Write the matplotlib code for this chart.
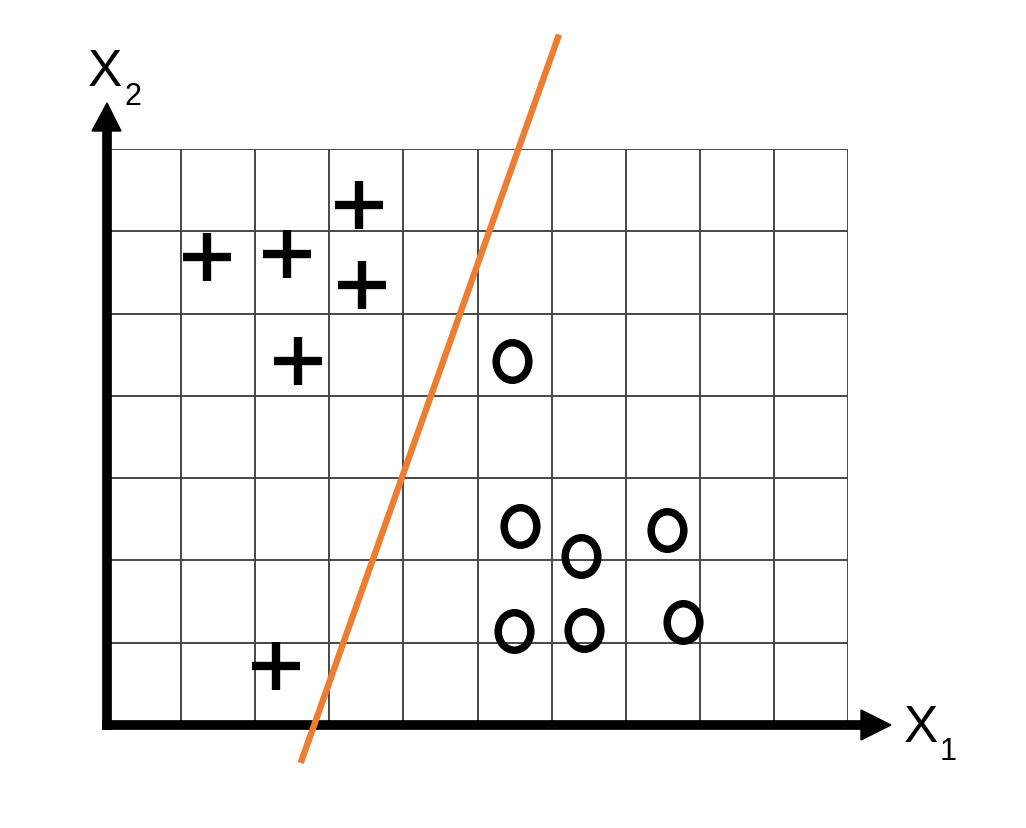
import matplotlib
matplotlib.use("Agg")
import matplotlib.pyplot as plt
from matplotlib.path import Path
from matplotlib.transforms import Affine2D
import numpy as np

# Data (grid units)
plus_x = [1.345, 2.425, 3.401, 3.445, 2.574, 2.281]
plus_y = [5.687, 5.724, 6.323, 5.347, 4.420, 0.721]
circ_x = [5.462, 5.574, 6.393, 7.561, 5.493, 6.437, 7.769]
circ_y = [4.420, 2.422, 2.050, 2.373, 1.146, 1.158, 1.255]
line_x = [2.614, 6.100]
line_y = [-0.462, 8.390]
n_cols = 10
n_rows = 7
x_label = "X"
x_sub = "1"
y_label = "X"
y_sub = "2"

W, H = 1026, 829
fig = plt.figure(figsize=(W / 100, H / 100), dpi=100)
fig.patch.set_facecolor("white")

# axes mapped so that grid 0..10 x 0..7 spans the pixel box
left_px, right_px, top_px, bottom_px = 107, 848, 150, 726
ax = fig.add_axes([left_px / W, (H - bottom_px) / H,
                   (right_px - left_px) / W, (bottom_px - top_px) / H])
ax.set_xlim(0, n_cols)
ax.set_ylim(0, n_rows)
ax.axis("off")

ux = (right_px - left_px) / n_cols   # px per x unit
uy = (bottom_px - top_px) / n_rows   # px per y unit

grid_col = "#474747"
for i in range(1, n_cols + 1):
    ax.plot([i, i], [0, n_rows], color=grid_col, lw=1.4, zorder=1,
            solid_capstyle="butt")
for j in range(1, n_rows + 1):
    ax.plot([0, n_cols], [j, j], color=grid_col, lw=1.4, zorder=1,
            solid_capstyle="butt")

# axes arrows
def px2x(px):
    return (px - left_px) / ux

def px2y(py):
    return (bottom_px - py) / uy

axis_lw = 7.0
ax.plot([px2x(102), px2x(865)], [0, 0], color="black", lw=axis_lw,
        solid_capstyle="butt", zorder=3, clip_on=False)
ax.plot([0, 0], [px2y(731), px2y(130)], color="black", lw=axis_lw,
        solid_capstyle="butt", zorder=3, clip_on=False)
# arrowheads as polygons in data coords
hx = [px2x(861), px2x(891), px2x(861)]
hy = [px2y(711), 0, px2y(741)]
ax.fill(hx, hy, color="black", zorder=4, clip_on=False)
vx = [px2x(92), 0, px2x(121)]
vy = [px2y(132), px2y(104), px2y(132)]
ax.fill(vx, vy, color="black", zorder=4, clip_on=False)

# decision line
ax.plot(line_x, line_y, color="#ED7D31", lw=4.6, zorder=5, clip_on=False,
        solid_capstyle="butt")

# plus markers
ax.plot(plus_x, plus_y, linestyle="none", marker="+", markersize=34,
        markeredgewidth=6.0, color="black", zorder=6)

# elliptical open circles
ell = Path.unit_circle().transformed(Affine2D().scale(0.87, 1.0))
ax.plot(circ_x, circ_y, linestyle="none", marker=ell, markersize=27,
        markerfacecolor="none", markeredgewidth=5.4,
        markeredgecolor="black", zorder=6)

# labels
font = "Liberation Sans"
fig.text(105 / W, 1 - 72 / H, y_label, fontsize=37, family=font,
         ha="center", va="center")
fig.text(133 / W, 1 - 97 / H, y_sub, fontsize=22, family=font,
         ha="center", va="center")
fig.text(921 / W, 1 - 729 / H, x_label, fontsize=37, family=font,
         ha="center", va="center")
fig.text(948 / W, 1 - 752 / H, x_sub, fontsize=22, family=font,
         ha="center", va="center")

fig.savefig("out.png", dpi=100, facecolor="white")
